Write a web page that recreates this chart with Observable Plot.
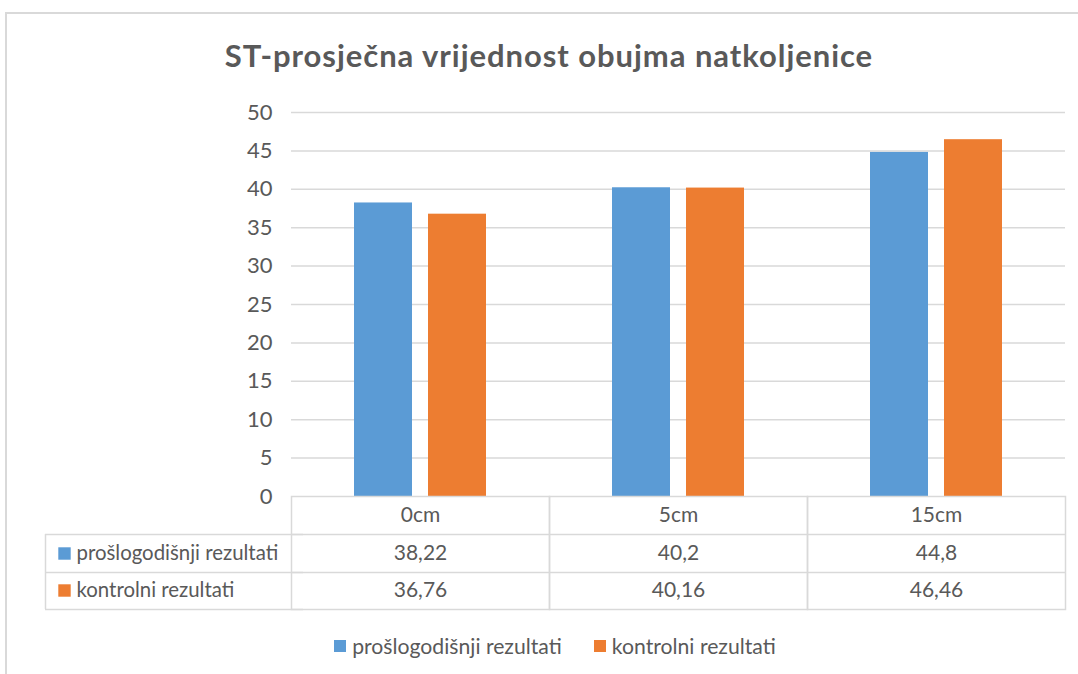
<!DOCTYPE html>
<html><head><meta charset="utf-8">
<script src="https://cdn.jsdelivr.net/npm/d3@7"></script>
<script src="https://cdn.jsdelivr.net/npm/@observablehq/plot@0.6"></script>
<style>
body{margin:0;background:#fff;font-family:Lato,"Open Sans",sans-serif;}
#wrap{position:relative;width:1078px;height:674px;overflow:hidden;background:#fff;}
#border{position:absolute;left:5px;top:12px;width:1100px;height:700px;border:2px solid #d9d9d9;box-sizing:border-box;}
#title{position:absolute;left:10px;width:1078px;top:37px;line-height:36px;text-align:center;font-size:31px;letter-spacing:0.95px;font-weight:bold;color:#595959;}
#chart{position:absolute;left:0;top:82px;}
#legend{position:absolute;left:16px;width:1078px;top:631px;line-height:26px;text-align:center;font-size:21.2px;color:#595959;}
.item{display:inline-flex;align-items:center;margin:0 16px;}
.sw{width:12px;height:12px;display:inline-block;margin-right:6px;}
</style></head>
<body><div id="wrap"><div id="border"></div><div id="title"></div><div id="chart"></div><div id="legend"></div></div>
<script>
const title = "ST-prosječna vrijednost obujma natkoljenice";
const categories = ["0cm", "5cm", "15cm"];
const series = ["prošlogodišnji rezultati", "kontrolni rezultati"];
const lastYear = [38.22, 40.2, 44.8];
const control = [36.76, 40.16, 46.46];
const yTicks = [0, 5, 10, 15, 20, 25, 30, 35, 40, 45, 50];
const colors = ["#5b9bd5", "#ed7d31"];

const seriesValues = [lastYear, control];
const data = categories.flatMap((c, i) => series.map((s, k) => ({cat: c, series: s, value: seriesValues[k][i]})));
const fmt = v => String(v).replace(".", ",");

document.getElementById("title").textContent = title;

const gridColor = "#d9d9d9";
const textColor = "#595959";
const H = 538, mTop = 30, mBottom = 124;
const frameH = H - mTop - mBottom;
const rowH = [38, 76, 113];

const marks = [
  Plot.ruleY(yTicks.slice(1), {stroke: gridColor, strokeWidth: 1.5}),
  Plot.barY(data, {fx: "cat", x: "series", y: "value", fill: "series"}),
  // data table
  Plot.frame({stroke: gridColor, strokeWidth: 1.5, insetTop: frameH, insetBottom: -rowH[2]}),
  Plot.ruleY([0], {stroke: gridColor, strokeWidth: 1.5, dy: rowH[0]}),
  Plot.ruleY([0], {stroke: gridColor, strokeWidth: 1.5, dy: rowH[1]}),
  Plot.text(categories, {fx: d => d, text: d => d, frameAnchor: "bottom", lineAnchor: "middle", dy: 19, fill: textColor}),
  // label column
  ...rowH.map(dy => Plot.ruleY([0], {fx: () => categories[0], stroke: gridColor, strokeWidth: 1.5, dx: -246, dy})),
  Plot.ruleX([0], {fx: () => categories[0], x: () => series[0], stroke: gridColor, strokeWidth: 1.5, insetTop: frameH + rowH[0], insetBottom: -rowH[2], dx: -338})
];
series.forEach((s, k) => {
  const dy = k === 0 ? 57 : 94;
  marks.push(Plot.text(data.filter(d => d.series === s), {fx: "cat", text: d => fmt(d.value), frameAnchor: "bottom", lineAnchor: "middle", dy, fill: textColor}));
  marks.push(Plot.text([s], {fx: () => categories[0], text: d => d, frameAnchor: "bottom-left", lineAnchor: "middle", textAnchor: "start", dx: -215, dy, fill: textColor, fontSize: 20.4}));
  marks.push(Plot.dot([s], {fx: () => categories[0], frameAnchor: "bottom-left", dx: -227, dy, symbol: "square", r: 7, fill: d => d}));
});

const chart = Plot.plot({
  width: 1078,
  height: H,
  marginLeft: 291,
  marginRight: 13,
  marginTop: mTop,
  marginBottom: mBottom,
  style: {fontFamily: "Lato, 'Open Sans', sans-serif", fontSize: "21px", color: textColor, background: "transparent"},
  fx: {domain: categories, padding: 0, axis: null, label: null},
  x: {domain: series, paddingInner: 0.216, paddingOuter: 0.851, axis: null},
  y: {domain: [0, 50], ticks: yTicks, tickSize: 0, tickPadding: 19, label: null},
  color: {domain: series, range: colors},
  marks
});
chart.querySelectorAll("[aria-label='y-axis'] text, [aria-label='y-axis tick label'] text").forEach(t => t.style.fontSize = "22px");
document.getElementById("chart").appendChild(chart);

const legend = document.getElementById("legend");
series.forEach((s, k) => {
  const item = document.createElement("span");
  item.className = "item";
  const sw = document.createElement("span");
  sw.className = "sw";
  sw.style.background = colors[k];
  item.appendChild(sw);
  item.appendChild(document.createTextNode(s));
  legend.appendChild(item);
});
</script>
</body></html>
